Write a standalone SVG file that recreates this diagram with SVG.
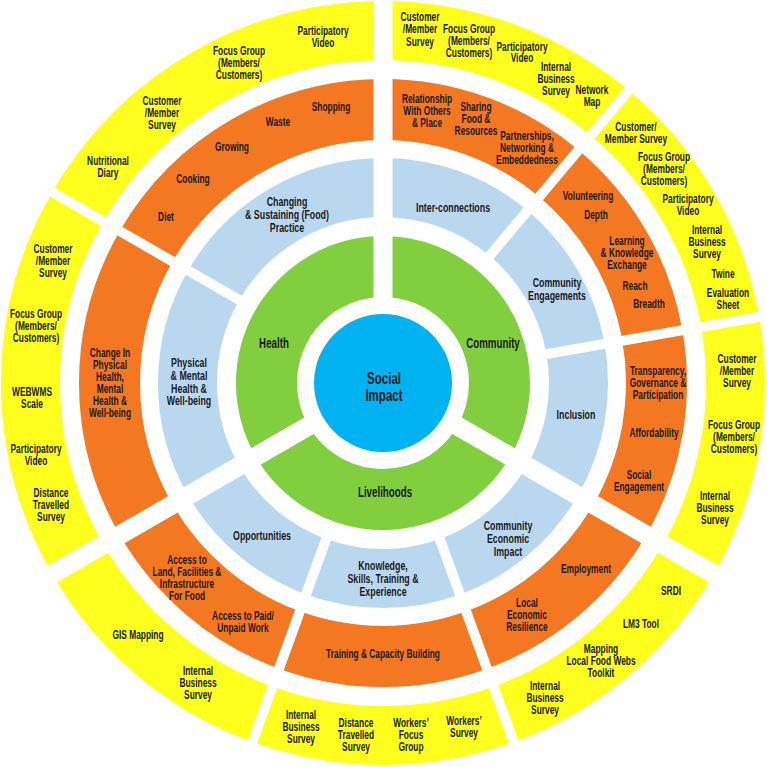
<svg xmlns="http://www.w3.org/2000/svg" width="767" height="767" viewBox="0 0 767 767">
<style>
.y{fill:none;stroke:#FFFF1E;stroke-width:59}
.o{fill:none;stroke:#F47721;stroke-width:61}
.b{fill:none;stroke:#B9D8EF;stroke-width:59}
.g{fill:none;stroke:#81CF3F;stroke-width:61}
.s{font-family:"Liberation Sans",Arial,sans-serif;font-weight:bold;font-size:12.5px;text-anchor:middle;fill:#1a1a1a}
.m{font-family:"Liberation Sans",Arial,sans-serif;font-weight:bold;font-size:13px;text-anchor:middle;fill:#1a1a1a}
.l{font-family:"Liberation Sans",Arial,sans-serif;font-weight:bold;font-size:15px;text-anchor:middle;fill:#1a1a1a}
.c{font-family:"Liberation Sans",Arial,sans-serif;font-weight:bold;font-size:17px;text-anchor:middle;fill:#1a1a1a}
.d{stroke:#fff;stroke-linecap:butt}
</style>
<rect width="767" height="767" fill="#fff"/>

<!-- Yellow ring -->
<g id="y-topleft">
<circle class="y" cx="383" cy="383" r="352.5" pathLength="360" stroke-dasharray="60 360" transform="rotate(210 383 383)"/>
<text class="s" transform="translate(323 0) scale(.67 1)"><tspan x="0" y="35">Participatory</tspan><tspan x="0" y="47">Video</tspan></text>
<text class="s" transform="translate(239 0) scale(.67 1)"><tspan x="0" y="55">Focus Group</tspan><tspan x="0" y="67">(Members/</tspan><tspan x="0" y="79">Customers)</tspan></text>
<text class="s" transform="translate(162 0) scale(.67 1)"><tspan x="0" y="105">Customer</tspan><tspan x="0" y="117">/Member</tspan><tspan x="0" y="129">Survey</tspan></text>
<text class="s" transform="translate(108 0) scale(.67 1)"><tspan x="0" y="165">Nutritional</tspan><tspan x="0" y="177">Diary</tspan></text>
</g>
<g id="y-left">
<circle class="y" cx="383" cy="383" r="352.5" pathLength="360" stroke-dasharray="60 360" transform="rotate(150 383 383)"/>
<text class="s" transform="translate(53 0) scale(.67 1)"><tspan x="0" y="253">Customer</tspan><tspan x="0" y="265">/Member</tspan><tspan x="0" y="277">Survey</tspan></text>
<text class="s" transform="translate(36 0) scale(.67 1)"><tspan x="0" y="318">Focus Group</tspan><tspan x="0" y="330">(Members/</tspan><tspan x="0" y="342">Customers)</tspan></text>
<text class="s" transform="translate(32 0) scale(.67 1)"><tspan x="0" y="396">WEBWMS</tspan><tspan x="0" y="408">Scale</tspan></text>
<text class="s" transform="translate(36 0) scale(.67 1)"><tspan x="0" y="453">Participatory</tspan><tspan x="0" y="465">Video</tspan></text>
<text class="s" transform="translate(51 0) scale(.67 1)"><tspan x="0" y="497">Distance</tspan><tspan x="0" y="509">Travelled</tspan><tspan x="0" y="521">Survey</tspan></text>
</g>
<g id="y-bottomleft">
<circle class="y" cx="383" cy="383" r="352.5" pathLength="360" stroke-dasharray="40 360" transform="rotate(110 383 383)"/>
<text class="s" transform="translate(138 0) scale(.67 1)"><tspan x="0" y="639">GIS Mapping</tspan></text>
<text class="s" transform="translate(198 0) scale(.67 1)"><tspan x="0" y="675">Internal</tspan><tspan x="0" y="687">Business</tspan><tspan x="0" y="699">Survey</tspan></text>
</g>
<g id="y-bottom">
<circle class="y" cx="383" cy="383" r="352.5" pathLength="360" stroke-dasharray="40 360" transform="rotate(70 383 383)"/>
<text class="s" transform="translate(301 0) scale(.67 1)"><tspan x="0" y="719">Internal</tspan><tspan x="0" y="731">Business</tspan><tspan x="0" y="743">Survey</tspan></text>
<text class="s" transform="translate(356 0) scale(.67 1)"><tspan x="0" y="727">Distance</tspan><tspan x="0" y="739">Travelled</tspan><tspan x="0" y="751">Survey</tspan></text>
<text class="s" transform="translate(411 0) scale(.67 1)"><tspan x="0" y="727">Workers’</tspan><tspan x="0" y="739">Focus</tspan><tspan x="0" y="751">Group</tspan></text>
<text class="s" transform="translate(464 0) scale(.67 1)"><tspan x="0" y="725">Workers’</tspan><tspan x="0" y="737">Survey</tspan></text>
</g>
<g id="y-bottomright">
<circle class="y" cx="383" cy="383" r="352.5" pathLength="360" stroke-dasharray="40 360" transform="rotate(30 383 383)"/>
<text class="s" transform="translate(671 0) scale(.67 1)"><tspan x="0" y="595">SRDI</tspan></text>
<text class="s" transform="translate(641 0) scale(.67 1)"><tspan x="0" y="628">LM3 Tool</tspan></text>
<text class="s" transform="translate(601 0) scale(.67 1)"><tspan x="0" y="653">Mapping</tspan><tspan x="0" y="665">Local Food Webs</tspan><tspan x="0" y="677">Toolkit</tspan></text>
<text class="s" transform="translate(545 0) scale(.67 1)"><tspan x="0" y="690">Internal</tspan><tspan x="0" y="702">Business</tspan><tspan x="0" y="714">Survey</tspan></text>
</g>
<g id="y-right">
<circle class="y" cx="383" cy="383" r="352.5" pathLength="360" stroke-dasharray="40 360" transform="rotate(350 383 383)"/>
<text class="s" transform="translate(737 0) scale(.67 1)"><tspan x="0" y="363">Customer</tspan><tspan x="0" y="375">/Member</tspan><tspan x="0" y="387">Survey</tspan></text>
<text class="s" transform="translate(734 0) scale(.67 1)"><tspan x="0" y="429">Focus Group</tspan><tspan x="0" y="441">(Members/</tspan><tspan x="0" y="453">Customers)</tspan></text>
<text class="s" transform="translate(715 0) scale(.67 1)"><tspan x="0" y="500">Internal</tspan><tspan x="0" y="512">Business</tspan><tspan x="0" y="524">Survey</tspan></text>
</g>
<g id="y-upperright">
<circle class="y" cx="383" cy="383" r="352.5" pathLength="360" stroke-dasharray="40 360" transform="rotate(310 383 383)"/>
<text class="s" transform="translate(636 0) scale(.67 1)"><tspan x="0" y="131">Customer/</tspan><tspan x="0" y="143">Member Survey</tspan></text>
<text class="s" transform="translate(664 0) scale(.67 1)"><tspan x="0" y="161">Focus Group</tspan><tspan x="0" y="173">(Members/</tspan><tspan x="0" y="185">Customers)</tspan></text>
<text class="s" transform="translate(688 0) scale(.67 1)"><tspan x="0" y="203">Participatory</tspan><tspan x="0" y="215">Video</tspan></text>
<text class="s" transform="translate(707 0) scale(.67 1)"><tspan x="0" y="234">Internal</tspan><tspan x="0" y="246">Business</tspan><tspan x="0" y="258">Survey</tspan></text>
<text class="s" transform="translate(723 0) scale(.67 1)"><tspan x="0" y="278">Twine</tspan></text>
<text class="s" transform="translate(728 0) scale(.67 1)"><tspan x="0" y="297">Evaluation</tspan><tspan x="0" y="309">Sheet</tspan></text>
</g>
<g id="y-top">
<circle class="y" cx="383" cy="383" r="352.5" pathLength="360" stroke-dasharray="40 360" transform="rotate(270 383 383)"/>
<text class="s" transform="translate(420 0) scale(.67 1)"><tspan x="0" y="21">Customer</tspan><tspan x="0" y="33.5">/Member</tspan><tspan x="0" y="46">Survey</tspan></text>
<text class="s" transform="translate(469 0) scale(.67 1)"><tspan x="0" y="33">Focus Group</tspan><tspan x="0" y="45">(Members/</tspan><tspan x="0" y="57">Customers)</tspan></text>
<text class="s" transform="translate(522 0) scale(.67 1)"><tspan x="0" y="51">Participatory</tspan><tspan x="0" y="62.5">Video</tspan></text>
<text class="s" transform="translate(556 0) scale(.67 1)"><tspan x="0" y="71">Internal</tspan><tspan x="0" y="83">Business</tspan><tspan x="0" y="95">Survey</tspan></text>
<text class="s" transform="translate(592 0) scale(.67 1)"><tspan x="0" y="94">Network</tspan><tspan x="0" y="106">Map</tspan></text>
</g>

<!-- Orange ring -->
<g id="o-topleft">
<circle class="o" cx="383" cy="383" r="273.5" pathLength="360" stroke-dasharray="60 360" transform="rotate(210 383 383)"/>
<text class="s" transform="translate(166 0) scale(.67 1)"><tspan x="0" y="221">Diet</tspan></text>
<text class="s" transform="translate(193 0) scale(.67 1)"><tspan x="0" y="183">Cooking</tspan></text>
<text class="s" transform="translate(232 0) scale(.67 1)"><tspan x="0" y="151">Growing</tspan></text>
<text class="s" transform="translate(278 0) scale(.67 1)"><tspan x="0" y="126">Waste</tspan></text>
<text class="s" transform="translate(331 0) scale(.67 1)"><tspan x="0" y="111">Shopping</tspan></text>
</g>
<g id="o-left">
<circle class="o" cx="383" cy="383" r="273.5" pathLength="360" stroke-dasharray="60 360" transform="rotate(150 383 383)"/>
<text class="s" transform="translate(110 0) scale(.67 1)"><tspan x="0" y="357">Change In</tspan><tspan x="0" y="369">Physical</tspan><tspan x="0" y="381">Health,</tspan><tspan x="0" y="393">Mental</tspan><tspan x="0" y="405">Health &amp;</tspan><tspan x="0" y="417">Well-being</tspan></text>
</g>
<g id="o-bottomleft">
<circle class="o" cx="383" cy="383" r="273.5" pathLength="360" stroke-dasharray="40 360" transform="rotate(110 383 383)"/>
<text class="s" transform="translate(187 0) scale(.67 1)"><tspan x="0" y="564">Access to</tspan><tspan x="0" y="576">Land, Facilities &amp;</tspan><tspan x="0" y="588">Infrastructure</tspan><tspan x="0" y="600">For Food</tspan></text>
<text class="s" transform="translate(243 0) scale(.67 1)"><tspan x="0" y="620">Access to Paid/</tspan><tspan x="0" y="632">Unpaid Work</tspan></text>
</g>
<g id="o-bottom">
<circle class="o" cx="383" cy="383" r="273.5" pathLength="360" stroke-dasharray="40 360" transform="rotate(70 383 383)"/>
<text class="s" transform="translate(383 0) scale(.67 1)"><tspan x="0" y="658">Training &amp; Capacity Building</tspan></text>
</g>
<g id="o-bottomright">
<circle class="o" cx="383" cy="383" r="273.5" pathLength="360" stroke-dasharray="40 360" transform="rotate(30 383 383)"/>
<text class="s" transform="translate(586 0) scale(.67 1)"><tspan x="0" y="573">Employment</tspan></text>
<text class="s" transform="translate(527 0) scale(.67 1)"><tspan x="0" y="607">Local</tspan><tspan x="0" y="619">Economic</tspan><tspan x="0" y="631">Resilience</tspan></text>
</g>
<g id="o-right">
<circle class="o" cx="383" cy="383" r="273.5" pathLength="360" stroke-dasharray="40 360" transform="rotate(350 383 383)"/>
<text class="s" transform="translate(658 0) scale(.67 1)"><tspan x="0" y="375">Transparency,</tspan><tspan x="0" y="387">Governance &amp;</tspan><tspan x="0" y="399">Participation</tspan></text>
<text class="s" transform="translate(654 0) scale(.67 1)"><tspan x="0" y="437">Affordability</tspan></text>
<text class="s" transform="translate(639 0) scale(.67 1)"><tspan x="0" y="479">Social</tspan><tspan x="0" y="491">Engagement</tspan></text>
</g>
<g id="o-upperright">
<circle class="o" cx="383" cy="383" r="273.5" pathLength="360" stroke-dasharray="40 360" transform="rotate(310 383 383)"/>
<text class="s" transform="translate(588 0) scale(.67 1)"><tspan x="0" y="200">Volunteering</tspan></text>
<text class="s" transform="translate(596 0) scale(.67 1)"><tspan x="0" y="219">Depth</tspan></text>
<text class="s" transform="translate(627 0) scale(.67 1)"><tspan x="0" y="245">Learning</tspan><tspan x="0" y="257">&amp; Knowledge</tspan><tspan x="0" y="269">Exchange</tspan></text>
<text class="s" transform="translate(635 0) scale(.67 1)"><tspan x="0" y="290">Reach</tspan></text>
<text class="s" transform="translate(649 0) scale(.67 1)"><tspan x="0" y="308">Breadth</tspan></text>
</g>
<g id="o-top">
<circle class="o" cx="383" cy="383" r="273.5" pathLength="360" stroke-dasharray="40 360" transform="rotate(270 383 383)"/>
<text class="s" transform="translate(427 0) scale(.67 1)"><tspan x="0" y="103">Relationship</tspan><tspan x="0" y="115">With Others</tspan><tspan x="0" y="127">&amp; Place</tspan></text>
<text class="s" transform="translate(476 0) scale(.67 1)"><tspan x="0" y="111">Sharing</tspan><tspan x="0" y="123">Food &amp;</tspan><tspan x="0" y="135">Resources</tspan></text>
<text class="s" transform="translate(527 0) scale(.67 1)"><tspan x="0" y="140">Partnerships,</tspan><tspan x="0" y="152">Networking &amp;</tspan><tspan x="0" y="164">Embeddedness</tspan></text>
</g>

<!-- Light blue ring -->
<g id="b-topleft">
<circle class="b" cx="383" cy="383" r="195.5" pathLength="360" stroke-dasharray="60 360" transform="rotate(210 383 383)"/>
<text class="m" transform="translate(287 0) scale(.68 1)"><tspan x="0" y="206">Changing</tspan><tspan x="0" y="219">&amp; Sustaining (Food)</tspan><tspan x="0" y="232">Practice</tspan></text>
</g>
<g id="b-left">
<circle class="b" cx="383" cy="383" r="195.5" pathLength="360" stroke-dasharray="60 360" transform="rotate(150 383 383)"/>
<text class="m" transform="translate(189 0) scale(.68 1)"><tspan x="0" y="367">Physical</tspan><tspan x="0" y="380">&amp; Mental</tspan><tspan x="0" y="393">Health &amp;</tspan><tspan x="0" y="405">Well-being</tspan></text>
</g>
<g id="b-bottomleft">
<circle class="b" cx="383" cy="383" r="195.5" pathLength="360" stroke-dasharray="40 360" transform="rotate(110 383 383)"/>
<text class="m" transform="translate(262 0) scale(.68 1)"><tspan x="0" y="540">Opportunities</tspan></text>
</g>
<g id="b-bottom">
<circle class="b" cx="383" cy="383" r="195.5" pathLength="360" stroke-dasharray="40 360" transform="rotate(70 383 383)"/>
<text class="m" transform="translate(383 0) scale(.68 1)"><tspan x="0" y="570">Knowledge,</tspan><tspan x="0" y="583">Skills, Training &amp;</tspan><tspan x="0" y="596">Experience</tspan></text>
</g>
<g id="b-bottomright">
<circle class="b" cx="383" cy="383" r="195.5" pathLength="360" stroke-dasharray="40 360" transform="rotate(30 383 383)"/>
<text class="m" transform="translate(508 0) scale(.68 1)"><tspan x="0" y="530">Community</tspan><tspan x="0" y="543">Economic</tspan><tspan x="0" y="556">Impact</tspan></text>
</g>
<g id="b-right">
<circle class="b" cx="383" cy="383" r="195.5" pathLength="360" stroke-dasharray="40 360" transform="rotate(350 383 383)"/>
<text class="m" transform="translate(576 0) scale(.68 1)"><tspan x="0" y="419">Inclusion</tspan></text>
</g>
<g id="b-upperright">
<circle class="b" cx="383" cy="383" r="195.5" pathLength="360" stroke-dasharray="40 360" transform="rotate(310 383 383)"/>
<text class="m" transform="translate(557 0) scale(.68 1)"><tspan x="0" y="287">Community</tspan><tspan x="0" y="300">Engagements</tspan></text>
</g>
<g id="b-top">
<circle class="b" cx="383" cy="383" r="195.5" pathLength="360" stroke-dasharray="40 360" transform="rotate(270 383 383)"/>
<text class="m" transform="translate(453 0) scale(.68 1)"><tspan x="0" y="212">Inter-connections</tspan></text>
</g>

<!-- Green ring -->
<g id="g-health">
<circle class="g" cx="383" cy="383" r="116.5" pathLength="360" stroke-dasharray="120 360" transform="rotate(150 383 383)"/>
<text class="l" transform="translate(274 0) scale(.65 1)"><tspan x="0" y="348">Health</tspan></text>
</g>
<g id="g-livelihoods">
<circle class="g" cx="383" cy="383" r="116.5" pathLength="360" stroke-dasharray="120 360" transform="rotate(30 383 383)"/>
<text class="l" transform="translate(385 0) scale(.65 1)"><tspan x="0" y="497">Livelihoods</tspan></text>
</g>
<g id="g-community">
<circle class="g" cx="383" cy="383" r="116.5" pathLength="360" stroke-dasharray="120 360" transform="rotate(270 383 383)"/>
<text class="l" transform="translate(493 0) scale(.65 1)"><tspan x="0" y="348">Community</tspan></text>
</g>

<!-- Centre -->
<g id="social-impact">
<circle cx="383" cy="383" r="69" fill="#00B2EF"/>
<text class="c" transform="translate(384 0) scale(.68 1)"><tspan x="0" y="384">Social</tspan><tspan x="0" y="401">Impact</tspan></text>
</g>

<!-- Dividers -->
<g id="dividers" class="d">
<line x1="383" y1="305" x2="383" y2="-10" stroke-width="19"/>
<line x1="315.5" y1="422" x2="45.3" y2="578" stroke-width="19"/>
<line x1="450.5" y1="422" x2="720.7" y2="578" stroke-width="19"/>
<line x1="247" y1="304.5" x2="45.3" y2="188" stroke-width="10"/>
<line x1="483.9" y1="262.7" x2="633.7" y2="84.3" stroke-width="10"/>
<line x1="537.6" y1="355.7" x2="767.1" y2="315.3" stroke-width="10"/>
<line x1="436.7" y1="530.5" x2="516.4" y2="749.5" stroke-width="10"/>
<line x1="329.3" y1="530.5" x2="249.6" y2="749.5" stroke-width="10"/>
</g>
</svg>
